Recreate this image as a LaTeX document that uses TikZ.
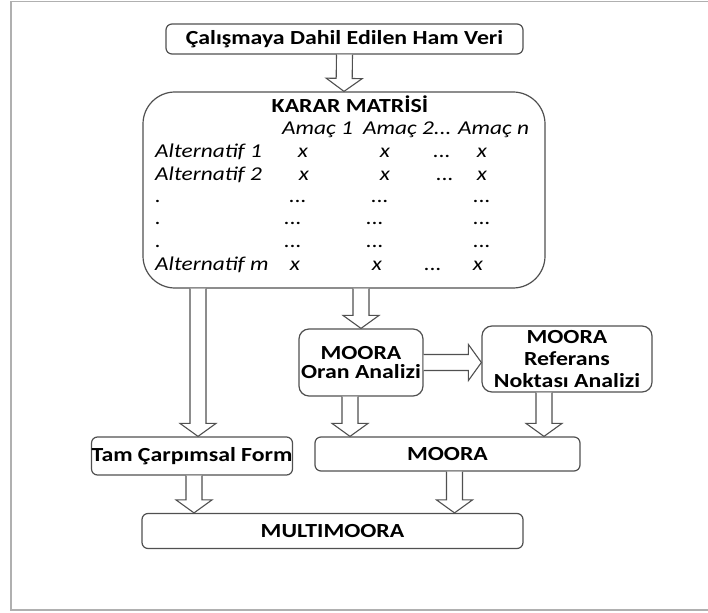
\documentclass[tikz,border=0pt]{standalone}
\usepackage{fontspec}
\setmainfont{Carlito}[FakeStretch=1.19]
\usetikzlibrary{calc}
\definecolor{boxgray}{HTML}{505050}
\definecolor{framegray}{HTML}{B0B0B0}
\newcommand\ddd{...}
\tikzset{
  box/.style={draw=boxgray, line width=1.2pt, rounded corners=6pt, inner sep=0pt,
    align=center, font=\bfseries\fontsize{20}{22}\selectfont},
  cell/.style={inner sep=0pt, anchor=base, font=\itshape\fontsize{19.6}{21}\selectfont},
  bigarrow/.style={draw=boxgray, line width=1.1pt, fill=white, line join=miter},
}
% block arrow from #1 to #2
\newcommand\bigarrow[2]{%
  \coordinate (s) at (#1); \coordinate (e) at (#2);
  \coordinate (h) at ($(e)!13pt!(s)$);
  \draw[bigarrow] ($(s)!8pt!90:(e)$) -- ($(h)!8pt!-90:(s)$) -- ($(h)!18pt!-90:(s)$)
    -- (e) -- ($(h)!18pt!90:(s)$) -- ($(h)!8pt!90:(s)$) -- ($(s)!8pt!-90:(e)$);
}
\begin{document}
\begin{tikzpicture}[x=1pt, y=-1pt]
  \useasboundingbox (0,0) rectangle (708,612);
  \draw[framegray, line width=1.2pt] (708,1.5) -- (11,1.5) -- (11,610) -- (708,610);

  \node[box, minimum width=357pt, minimum height=30pt] (veri) at (344.5,39) {Çalışmaya Dahil Edilen Ham Veri};
  \node[box, rounded corners=32pt, minimum width=402pt, minimum height=196pt] (karar) at (344,190) {};
  \node[box, rounded corners=10pt, minimum width=124pt, minimum height=67pt,
        font=\bfseries\fontsize{20}{18.5}\selectfont] (oran) at (361,362.5) {MOORA\\Oran Analizi};
  \node[box, rounded corners=10pt, minimum width=170pt, minimum height=66pt] (ref) at (567,359) {MOORA\\Referans\\Noktası Analizi};
  \node[box, minimum width=196pt, minimum height=38pt] (tam) at (192,456) {Tam Çarpımsal Form};
  \node[box, minimum width=265pt, minimum height=34pt] (moora) at (447.5,454) {MOORA};
  \node[box, minimum width=381pt, minimum height=35pt] (multi) at (332.5,531) {MULTIMOORA};

  % karar matrisi
  \node[cell, font=\bfseries\fontsize{20}{22}\selectfont] (baslik) at (350,113) {KARAR MATRİSİ};
  \node[cell, anchor=base west] (a1) at (282,135) {Amaç 1};
  \node[cell, anchor=base west] (a2) at (363,135) {Amaç 2...};
  \node[cell, anchor=base west] (an) at (458,135) {Amaç n};
  \foreach \lab/\yb [count=\i] in {Alternatif 1/158, Alternatif 2/181, ./203, ./224, ./247, Alternatif m/270}
    \node[cell, anchor=base west] (alt\i) at (155,\yb) {\lab};
  \foreach \xc/\yb/\t [count=\j] in {303/158/x, 385/158/x, 442/158/\ddd, 482/158/x,
      304/181/x, 385/181/x, 445/181/\ddd, 482/181/x,
      298/203/\ddd, 380/203/\ddd, 482/203/\ddd,
      293/224/\ddd, 375/224/\ddd, 482/224/\ddd,
      293/247/\ddd, 375/247/\ddd, 482/247/\ddd,
      295/270/x, 377/270/x, 433/270/\ddd, 478/270/x}
    \node[cell] (m\j) at (\xc,\yb) {\t};

  \bigarrow{veri.south}{karar.north}
  \bigarrow{oran.north |- karar.south}{oran.north}
  \bigarrow{[xshift=6pt]tam.north |- karar.south}{[xshift=6pt]tam.north}
  \bigarrow{oran.east}{oran.east -| ref.west}
  \bigarrow{[xshift=-11pt]oran.south}{[xshift=-11pt]oran.south |- moora.north}
  \bigarrow{[xshift=-23pt]ref.south}{[xshift=-23pt]ref.south |- moora.north}
  \bigarrow{[xshift=2pt]tam.south}{[xshift=2pt]tam.south |- multi.north}
  \bigarrow{[xshift=7pt]moora.south}{[xshift=7pt]moora.south |- multi.north}
\end{tikzpicture}
\end{document}
